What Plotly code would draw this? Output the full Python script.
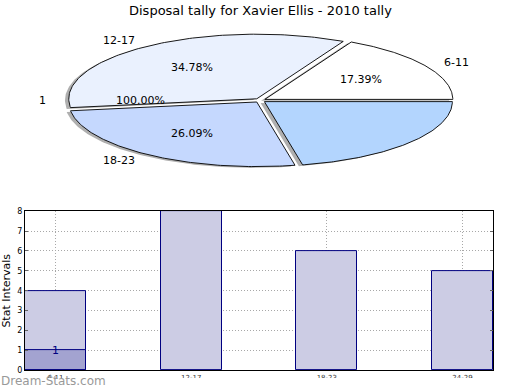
import numpy as np
import plotly.graph_objects as go

# ---------------- data ----------------
title_text = "Disposal tally for Xavier Ellis - 2010 tally"
categories = ["6-11", "12-17", "18-23", "24-29"]
bar_values = [4, 8, 6, 5]
overlay_categories = ["6-11"]
overlay_values = [1]
overlay_label = "1"
pie_values = [4, 8, 6, 5]
pie_labels = ["6-11", "12-17", "18-23", ""]
pie_colors = ["#ffffff", "#eaf1fe", "#c5d8fe", "#b3d5fe"]
extra_label = "1"
extra_pct = "100.00%"
y_ticks = [0, 1, 2, 3, 4, 5, 6, 7, 8]
y_title = "Stat Intervals"
watermark = "Dream-Stats.com"

W, H = 520, 390
# vertical calibration of the capture (screen_y = SY * fig_y + Y0)
SY, Y0 = 0.975, 3.3

def fy(t):
    return (t - Y0) / SY

def px(x):
    return x / W

def py(t):
    return 1 - fy(t) / H

# ---------------- pie geometry (target pixel space of overlay axes) ----------------
CX, CY, RA, RB = 260, 99.5, 188, 64.5
EXPLODE = 0.03
FONT = "DejaVu Sans"
PIE_BOTTOM = 195

fig = go.Figure()

total = float(sum(pie_values))
fracs = [v / total for v in pie_values]
starts = np.cumsum([0] + fracs[:-1]) * 360.0

annotations = []

def slice_poly(t1, t2, ox, oy):
    ts = np.radians(np.linspace(t1, t2, 120))
    xs = [ox] + list(ox + RA * np.cos(ts)) + [ox]
    ys = [oy] + list(oy - RB * np.sin(ts)) + [oy]
    return xs, ys

# shadows first
for i, f in enumerate(fracs):
    t1 = starts[i]; t2 = t1 + f * 360
    mid = np.radians((t1 + t2) / 2)
    ox = CX + EXPLODE * RA * np.cos(mid) - 0.02 * RA
    oy = CY - EXPLODE * RB * np.sin(mid) + 0.02 * RB
    xs, ys = slice_poly(t1, t2, ox, oy)
    fig.add_trace(go.Scatter(x=xs, y=ys, xaxis="x2", yaxis="y2", mode="lines",
                             fill="toself", fillcolor="rgba(77,77,77,0.45)",
                             line=dict(width=0), hoverinfo="skip", showlegend=False))

for i, f in enumerate(fracs):
    t1 = starts[i]; t2 = t1 + f * 360
    mid = np.radians((t1 + t2) / 2)
    ox = CX + EXPLODE * RA * np.cos(mid)
    oy = CY - EXPLODE * RB * np.sin(mid)
    xs, ys = slice_poly(t1, t2, ox, oy)
    fig.add_trace(go.Scatter(x=xs, y=ys, xaxis="x2", yaxis="y2", mode="lines",
                             fill="toself", fillcolor=pie_colors[i],
                             line=dict(color="black", width=0.9),
                             hoverinfo="skip", showlegend=False))
    if pie_labels[i]:
        lx = ox + 1.1 * RA * np.cos(mid)
        ly = oy - 1.1 * RB * np.sin(mid)
        annotations.append(dict(x=lx, y=ly, xref="x2", yref="y2", text=pie_labels[i],
                                showarrow=False, xanchor="left" if np.cos(mid) > 0 else "right",
                                yanchor="middle", font=dict(family=FONT, size=11, color="black")))
        pxx = ox + 0.6 * RA * np.cos(mid)
        pyy = oy - 0.6 * RB * np.sin(mid)
        annotations.append(dict(x=pxx, y=pyy, xref="x2", yref="y2",
                                text="%.2f%%" % (f * 100), showarrow=False,
                                xanchor="center", yanchor="middle",
                                font=dict(family=FONT, size=11, color="black")))

# extra single-value series label ("1", 100%) at 180 degrees
mid = np.radians(180)
annotations.append(dict(x=CX + 1.1 * RA * np.cos(mid) - 5, y=CY, xref="x2", yref="y2",
                        text=extra_label, showarrow=False, xanchor="right", yanchor="middle",
                        font=dict(family=FONT, size=11, color="black")))
annotations.append(dict(x=CX + 0.6 * RA * np.cos(mid) - 7, y=CY, xref="x2", yref="y2",
                        text=extra_pct, showarrow=False, xanchor="center", yanchor="middle",
                        font=dict(family=FONT, size=11, color="black")))

# ---------------- bar chart ----------------
fig.add_trace(go.Bar(x=categories, y=bar_values, width=0.45,
                     marker=dict(color="#ccccE4", line=dict(color="#000080", width=1)),
                     hoverinfo="skip", showlegend=False))
fig.add_trace(go.Bar(x=overlay_categories, y=overlay_values, width=0.45,
                     marker=dict(color="#a3a3d0", line=dict(color="#000080", width=1)),
                     hoverinfo="skip", showlegend=False))
annotations.append(dict(x=overlay_categories[0], y=overlay_values[0], xref="x", yref="y",
                        text=overlay_label, showarrow=False, xanchor="center", yanchor="middle",
                        font=dict(family=FONT, size=11, color="#000080")))

annotations.append(dict(x=px(260), y=py(10), xref="paper", yref="paper", text=title_text,
                        showarrow=False, xanchor="center", yanchor="middle",
                        font=dict(family=FONT, size=13, color="black")))
annotations.append(dict(x=px(-1), y=py(380), xref="paper", yref="paper", text=watermark,
                        showarrow=False, xanchor="left", yanchor="middle",
                        font=dict(family=FONT, size=12, color="#999999")))

# white band that clips the lower half of the category labels, as in the original image
shapes = [dict(type="rect", xref="paper", yref="paper", x0=0, x1=1, y0=-0.05, y1=py(376.5),
               fillcolor="white", line=dict(width=0), layer="above")]

fig.update_layout(
    width=W, height=H, margin=dict(l=0, r=0, t=0, b=0),
    paper_bgcolor="white", plot_bgcolor="white",
    barmode="overlay", bargap=0,
    annotations=annotations, shapes=shapes,
    xaxis=dict(domain=[px(25), px(493)], range=[-0.225, 3.225], type="category",
               categoryorder="array", categoryarray=categories,
               showgrid=True, gridcolor="#a8a8a8", griddash="1px,2px", gridwidth=1,
               showline=True, linecolor="black", linewidth=1, mirror=True,
               ticks="", tickfont=dict(family=FONT, size=7, color="#333"),
               zeroline=False),
    yaxis=dict(domain=[py(369), py(210)], range=[0, 8], tickvals=y_ticks,
               showgrid=True, gridcolor="#a8a8a8", griddash="1px,2px", gridwidth=1,
               showline=True, linecolor="black", linewidth=1, mirror="ticks",
               ticks="inside", ticklen=3, tickcolor="#666",
               tickfont=dict(family=FONT, size=8, color="black"),
               title=dict(text=y_title, font=dict(family=FONT, size=11, color="black"), standoff=4),
               zeroline=False),
    xaxis2=dict(domain=[0, 1], range=[0, W], visible=False, anchor="y2"),
    # pie axis: target pixel t lands at fig pixel fy(t)
    yaxis2=dict(domain=[py(PIE_BOTTOM), 1.0], range=[PIE_BOTTOM, Y0], visible=False, anchor="x2"),
)

fig.write_html("out.html", config={"displayModeBar": False},
               post_script="document.body.style.margin='0';document.body.style.overflow='hidden';")
